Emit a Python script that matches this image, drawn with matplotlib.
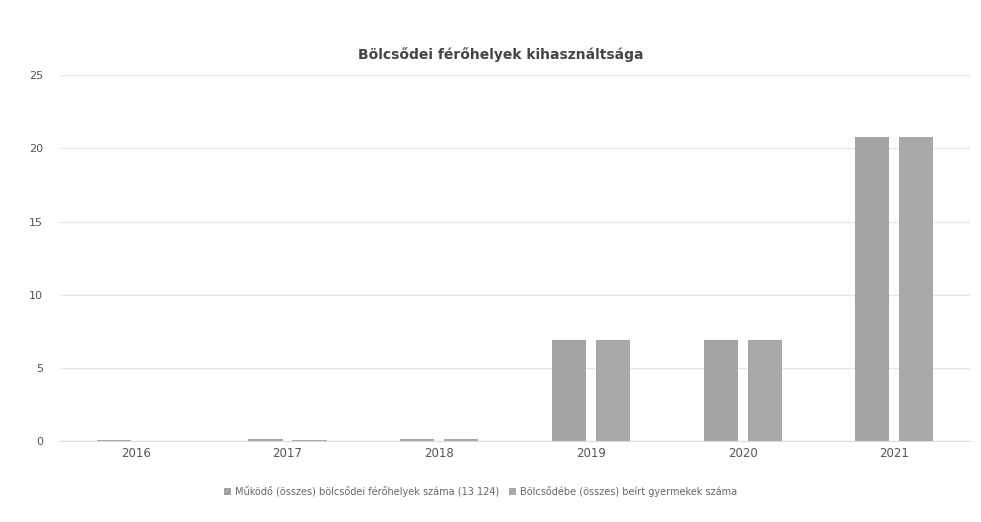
import matplotlib.pyplot as plt
import numpy as np

years = ["2016", "2017", "2018", "2019", "2020", "2021"]
ferohelyek = [0.05, 0.15, 0.15, 6.9, 6.9, 20.8]
gyermekek = [0.0, 0.1, 0.15, 6.9, 6.9, 20.8]
series_names = ["Működő (összes) bölcsődei férőhelyek száma (13 124)",
                "Bölcsődébe (összes) beírt gyermekek száma"]
yticks = [0, 5, 10, 15, 20, 25]

fig = plt.figure(figsize=(9.81, 5.22), dpi=100)
ax = fig.add_axes([0.061, 0.155, 0.928, 0.701])

x = np.arange(len(years))
w = 0.225
off = 0.145
ax.bar(x - off, ferohelyek, w, color="#a3a3a3", label=series_names[0])
ax.bar(x + off, gyermekek, w, color="#a8a8a8", label=series_names[1])

ax.set_ylim(0, 25)
ax.set_xlim(-0.5, len(years) - 0.5)
ax.set_yticks(yticks)
ax.set_yticklabels([str(t) for t in yticks], color="#555555", fontsize=8)
ax.set_xticks(x)
ax.set_xticklabels(years, color="#555555", fontsize=8.5)
ax.tick_params(length=0, pad=4)
ax.tick_params(axis="y", pad=12)
ax.grid(axis="y", color="#e6e6e6", linewidth=1)
ax.set_axisbelow(True)
for s in ["top", "right", "left"]:
    ax.spines[s].set_visible(False)
ax.spines["bottom"].set_color("#dddddd")

fig.text(0.51, 0.895, "Bölcsődei férőhelyek kihasználtsága", ha="center", va="center",
         fontsize=10, fontweight="bold", color="#444444")

fig.legend(loc="center", bbox_to_anchor=(0.49, 0.058), ncol=2, frameon=False,
           fontsize=7, labelcolor="#666666", handlelength=0.7, handleheight=0.7,
           columnspacing=1.0, handletextpad=0.4)

fig.savefig("out.png", dpi=100, facecolor="white")
